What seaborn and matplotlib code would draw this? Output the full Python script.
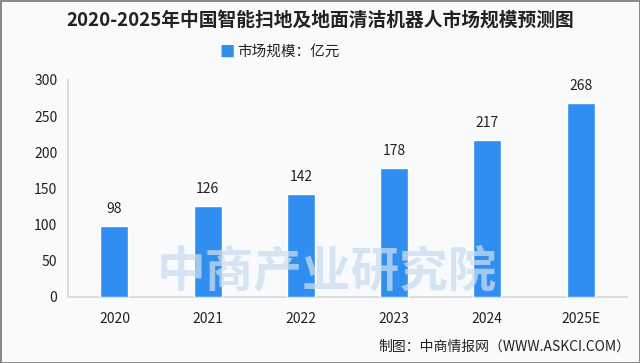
import matplotlib
matplotlib.use("Agg")
import matplotlib.pyplot as plt
import seaborn as sns
import pandas as pd

years = ["2020", "2021", "2022", "2023", "2024", "2025E"]
values = [98, 126, 142, 178, 217, 268]
yticks = [0, 50, 100, 150, 200, 250, 300]

sns.set_theme(style="white")
plt.rcParams['font.family'] = ['Noto Sans CJK SC', 'DejaVu Sans']

df = pd.DataFrame({"year": years, "value": values})

fig = plt.figure(figsize=(6.4, 3.63), dpi=100)
fig.patch.set_facecolor("#f9fafc")
fig.patch.set_edgecolor("#8a8a8a")
fig.patch.set_linewidth(2)
ax = fig.add_axes([0.106, 0.182, 0.874, 0.598])
ax.set_facecolor("#f9fafc")

# watermark text
fig.text(0.51, 0.25, "中商产业研究院", ha="center", va="center", fontsize=35,
         color="#c9dcef", alpha=0.75, fontweight="bold", zorder=0)

sns.barplot(data=df, x="year", y="value", color="#2f8ef0", saturation=1,
            width=0.3, ax=ax, zorder=3)

for i, v in enumerate(values):
    ax.text(i, v + 14, str(v), ha="center", va="bottom", fontsize=10, color="#222222")

ax.set_ylim(0, 300)
ax.set_yticks(yticks)
ax.set_xlabel("")
ax.set_ylabel("")
ax.tick_params(axis="both", labelsize=10, colors="#222222", length=4, width=0.8)
ax.tick_params(axis="y", color="#d0d0d0")
ax.tick_params(axis="x", length=0, pad=11)
for s in ["top", "right"]:
    ax.spines[s].set_visible(False)
ax.spines["left"].set_color("#d9d9d9")
ax.spines["bottom"].set_color("#d9d9d9")

fig.text(0.5, 0.945, "2020-2025年中国智能扫地及地面清洁机器人市场规模预测图",
         ha="center", va="center", fontsize=13.5, fontweight="bold", color="#222222")
fig.text(0.355, 0.857, "■", ha="center", va="center", fontsize=11, color="#2f8ef0")
fig.text(0.37, 0.857, "市场规模：亿元", ha="left", va="center", fontsize=10.5, color="#222222")
fig.text(0.985, 0.045, "制图：中商情报网（WWW.ASKCI.COM）", ha="right", va="center",
         fontsize=10, color="#222222")

fig.savefig("out.png", dpi=100, facecolor=fig.get_facecolor(), edgecolor=fig.get_edgecolor())
